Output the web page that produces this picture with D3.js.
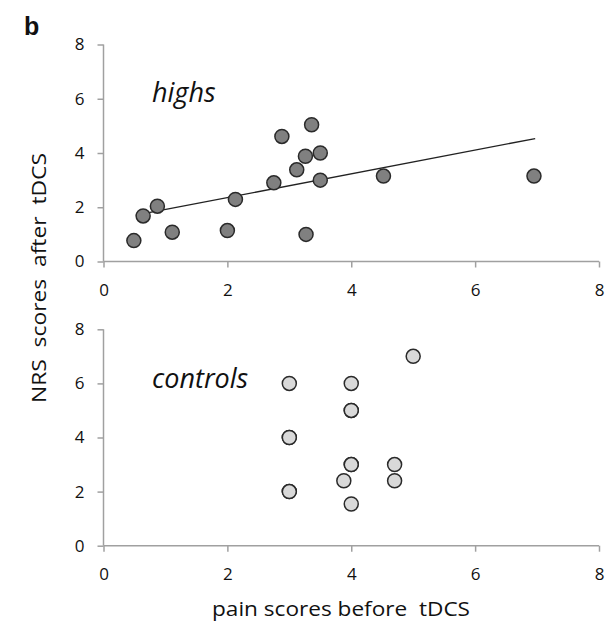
<!DOCTYPE html>
<html>
<head>
<meta charset="utf-8">
<script src="https://cdn.jsdelivr.net/npm/d3@7"></script>
<style>
  html, body { margin: 0; padding: 0; background: #fff; }
  svg { display: block; }
  text { font-family: "Open Sans", "Noto Sans", sans-serif; fill: #111; }
</style>
</head>
<body>
<svg id="chart" width="611" height="621"></svg>
<script>
// ---- data ----
const highsX = [0.49, 0.64, 0.87, 1.11, 2.0, 2.13, 2.75, 2.88, 3.12, 3.26, 3.27, 3.36, 3.5, 3.5, 4.52, 6.95];
const highsY = [0.77, 1.68, 2.04, 1.08, 1.14, 2.29, 2.90, 4.61, 3.38, 3.88, 1.0, 5.04, 4.0, 3.0, 3.15, 3.15];
const controlsX = [3, 3, 3, 3, 3, 4, 4, 4, 4, 4, 3.88, 4, 4.7, 4.7, 5];
const controlsY = [6, 4, 4, 2, 2, 6, 5, 5, 3, 3, 2.4, 1.54, 3, 2.4, 7];
const xTicks = [0, 2, 4, 6, 8];
const yTicks = [0, 2, 4, 6, 8];

const svg = d3.select("#chart");

const x = d3.scaleLinear().domain([0, 8]).range([103.5, 599]);
const yTop = d3.scaleLinear().domain([0, 8]).range([261.5, 44.5]);
const yBot = d3.scaleLinear().domain([0, 8]).range([545.7, 329.3]);

function drawAxes(y) {
  const gx = svg.append("g")
    .attr("transform", `translate(0,${y(0)})`)
    .call(d3.axisBottom(x).tickValues(xTicks).tickSize(6).tickPadding(16).tickFormat(d3.format("d")));
  const gy = svg.append("g")
    .attr("transform", `translate(${x(0)},0)`)
    .call(d3.axisLeft(y).tickValues(yTicks).tickSize(6).tickPadding(13).tickFormat(d3.format("d")));
  [gx, gy].forEach(g => {
    g.select(".domain").attr("stroke", "#a0a0a0").attr("stroke-width", 1.5);
    g.selectAll(".tick line").attr("stroke", "#a0a0a0").attr("stroke-width", 1.5);
    g.selectAll(".tick text")
      .style("font-family", '"Open Sans", "Noto Sans", sans-serif')
      .style("font-size", "17px").attr("fill", "#111");
  });
  gx.select(".domain").attr("d", `M${x(0)},0H${x(8)}`);
  gy.select(".domain").attr("d", `M0,${y(8)}V${y(0)}`);
}

drawAxes(yTop);
drawAxes(yBot);

// regression line for highs (least squares)
const n = highsX.length;
const mx = d3.mean(highsX), my = d3.mean(highsY);
let sxy = 0, sxx = 0;
for (let i = 0; i < n; i++) { sxy += (highsX[i]-mx)*(highsY[i]-my); sxx += (highsX[i]-mx)**2; }
const slope = sxy / sxx, intercept = my - slope * mx;
const x0 = d3.min(highsX) + 0.03, x1 = d3.max(highsX) + 0.02;
svg.append("line")
  .attr("x1", x(x0)).attr("y1", yTop(intercept + slope * x0))
  .attr("x2", x(x1)).attr("y2", yTop(intercept + slope * x1))
  .attr("stroke", "#222").attr("stroke-width", 1.3);

svg.append("g").selectAll("circle")
  .data(d3.zip(highsX, highsY)).join("circle")
  .attr("cx", d => x(d[0])).attr("cy", d => yTop(d[1]))
  .attr("r", 7).attr("fill", "#808080").attr("stroke", "#2a2a2a").attr("stroke-width", 1.5);

svg.append("g").selectAll("circle")
  .data(d3.zip(controlsX, controlsY)).join("circle")
  .attr("cx", d => x(d[0])).attr("cy", d => yBot(d[1]))
  .attr("r", 7).attr("fill", "#d9d9d9").attr("stroke", "#2a2a2a").attr("stroke-width", 1.5);

// labels
svg.append("text").attr("x", 24).attr("y", 35)
  .style("font-family", '"Liberation Sans", Arial, sans-serif')
  .style("font-weight", "bold").style("font-size", "25px").text("b");

svg.append("text").attr("x", 152).attr("y", 102)
  .style("font-style", "italic").style("font-size", "27px").text("highs");
svg.append("text").attr("x", 152).attr("y", 388)
  .style("font-style", "italic").style("font-size", "27px").text("controls");

svg.append("text").attr("x", 341).attr("y", 616)
  .attr("text-anchor", "middle").style("font-size", "20px")
  .attr("textLength", 258).attr("lengthAdjust", "spacingAndGlyphs")
  .attr("xml:space", "preserve").style("white-space", "pre")
  .text("pain scores before  tDCS");

svg.append("text")
  .attr("transform", "translate(46,278) rotate(-90)")
  .attr("text-anchor", "middle").style("font-size", "20px")
  .attr("textLength", 250).attr("lengthAdjust", "spacingAndGlyphs")
  .attr("xml:space", "preserve").style("white-space", "pre")
  .text("NRS  scores  after  tDCS");
</script>
</body>
</html>
